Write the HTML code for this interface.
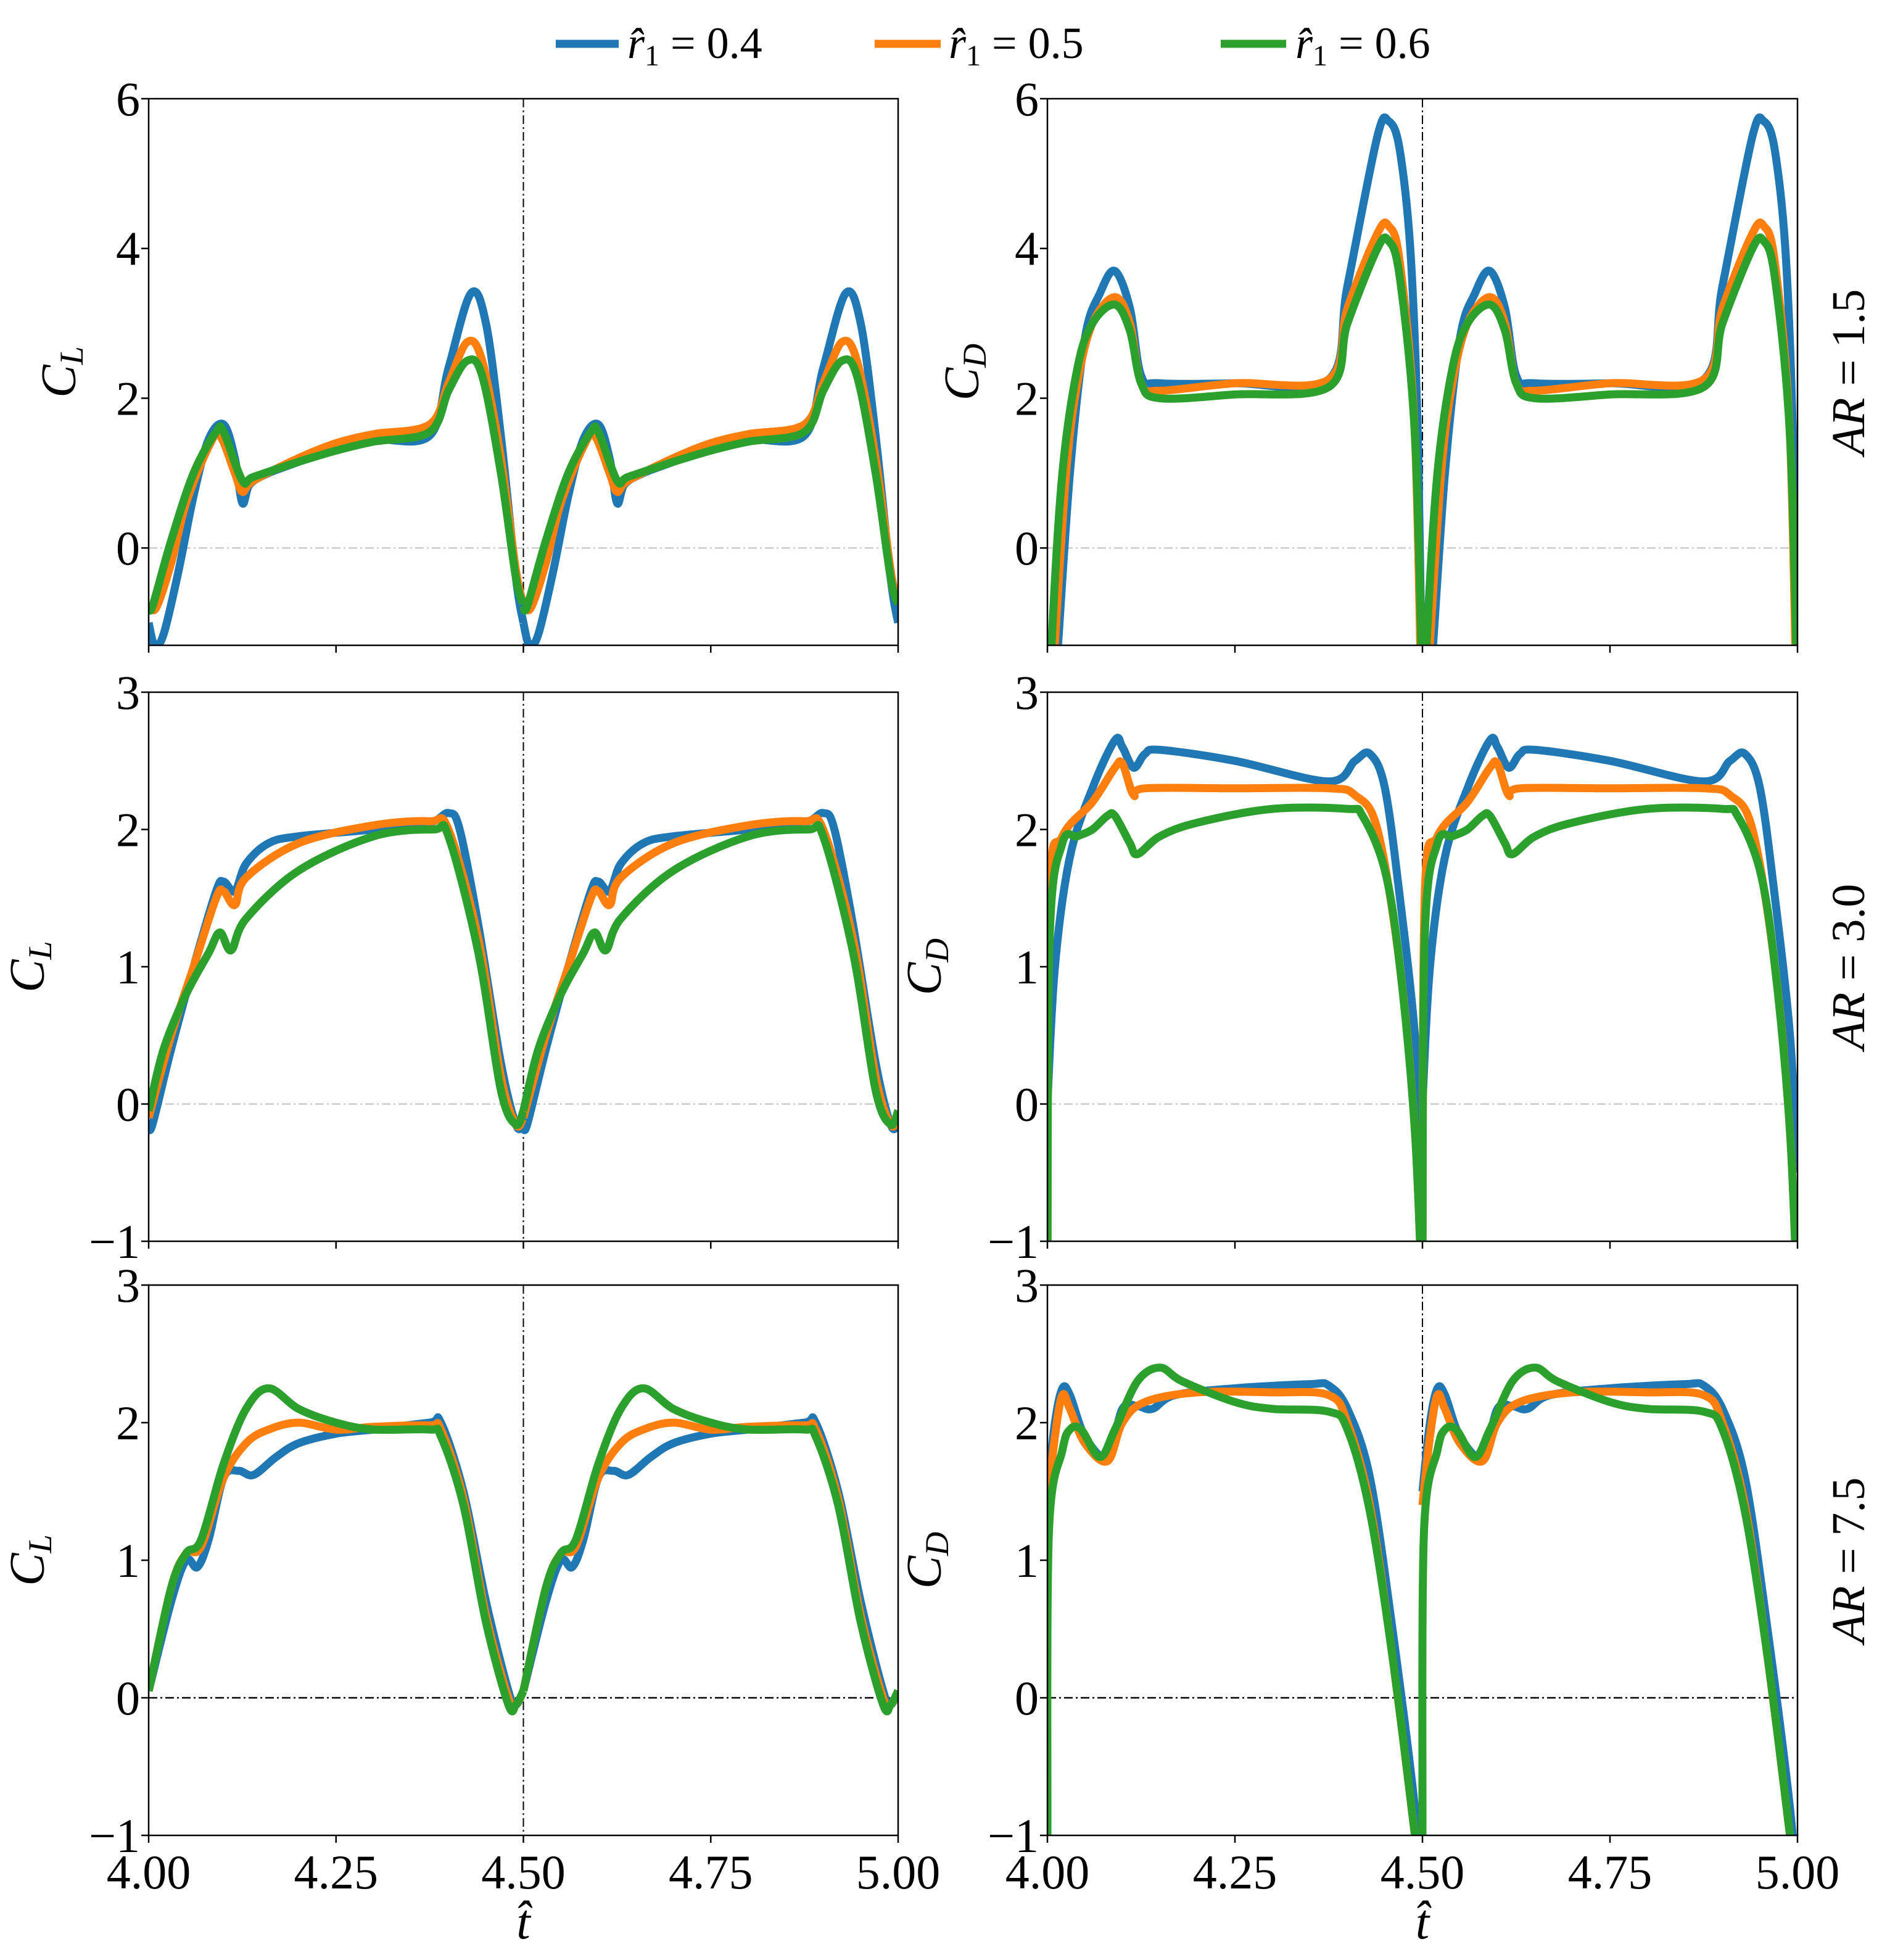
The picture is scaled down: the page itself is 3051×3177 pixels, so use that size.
<!DOCTYPE html>
<html><head><meta charset="utf-8"><style>
body{margin:0;background:#fff}
svg{display:block}
text{font-family:"Liberation Serif",serif;fill:#000}
</style></head><body>
<svg id="fig" width="3051" height="3177" viewBox="0 0 3051 3177">
<g id="legend">
 <g><line x1="901" y1="71" x2="1003" y2="71" stroke="#1f77b4" stroke-width="13"/><text x="1017" y="94" font-size="72"><tspan font-style="italic">r̂</tspan><tspan font-size="48" dy="12">1</tspan><tspan dy="-12"> = 0.4</tspan></text></g>
 <g><line x1="1418" y1="71" x2="1525" y2="71" stroke="#ff7f0e" stroke-width="13"/><text x="1538" y="94" font-size="72"><tspan font-style="italic">r̂</tspan><tspan font-size="48" dy="12">1</tspan><tspan dy="-12"> = 0.5</tspan></text></g>
 <g><line x1="1979" y1="71" x2="2085" y2="71" stroke="#2ca02c" stroke-width="13"/><text x="2100" y="94" font-size="72"><tspan font-style="italic">r̂</tspan><tspan font-size="48" dy="12">1</tspan><tspan dy="-12"> = 0.6</tspan></text></g>
</g>
</svg>
<script>
const tB=[4.0,4.008,4.02,4.04,4.06,4.08,4.10,4.115,4.125,4.135,4.16,4.2,4.25,4.3,4.375,4.4,4.43,4.45,4.47,4.49,4.5];
const r1L_blue=[-1.0,-1.3,-1.15,-0.3,0.7,1.45,1.65,1.2,0.6,0.85,1.0,1.15,1.35,1.45,1.5,2.4,3.4,3.0,1.5,-0.4,-1.0];
const tO1=[4.0,4.01,4.03,4.05,4.08,4.095,4.115,4.125,4.14,4.2,4.25,4.3,4.375,4.4,4.425,4.445,4.47,4.49,4.5];
const r1L_orange=[-0.75,-0.8,-0.2,0.6,1.35,1.5,1.0,0.75,0.9,1.2,1.4,1.52,1.65,2.2,2.75,2.5,1.2,-0.3,-0.75];
const tG1=[4.0,4.005,4.03,4.06,4.09,4.1,4.125,4.14,4.2,4.25,4.3,4.375,4.4,4.425,4.445,4.47,4.49,4.5];
const r1L_green=[-0.75,-0.78,0.1,1.0,1.55,1.55,0.9,0.95,1.15,1.3,1.42,1.55,2.1,2.5,2.3,1.0,-0.4,-0.75];

const tDB1=[4.0,4.012,4.03,4.05,4.07,4.09,4.11,4.125,4.15,4.25,4.375,4.4,4.44,4.455,4.47,4.485,4.495,4.5];
const r1D_blue=[-3,-1.6,1.0,2.8,3.4,3.7,3.2,2.3,2.2,2.2,2.25,3.5,5.5,5.7,5.3,3.8,1.0,-3];
const tDO1=[4.0,4.008,4.025,4.04,4.06,4.09,4.11,4.125,4.15,4.25,4.375,4.4,4.44,4.455,4.47,4.49,4.5];
const r1D_orange=[-3,-1.6,1.0,2.2,3.0,3.35,3.0,2.2,2.1,2.2,2.25,3.2,4.2,4.3,3.8,1.5,-3];
const tDG1=[4.0,4.006,4.02,4.04,4.06,4.09,4.11,4.125,4.15,4.25,4.375,4.4,4.44,4.455,4.47,4.49,4.5];
const r1D_green=[-3,-1.2,1.0,2.4,3.0,3.25,2.9,2.2,2.0,2.05,2.15,3.0,4.0,4.1,3.6,1.5,-2];

const tL2B=[4.0,4.005,4.03,4.06,4.09,4.1,4.115,4.13,4.16,4.2,4.3,4.375,4.4,4.415,4.44,4.47,4.49,4.5];
const r2L_blue=[-0.15,-0.15,0.4,1.0,1.55,1.62,1.55,1.75,1.9,1.95,2.0,2.05,2.12,2.0,1.3,0.3,-0.15,-0.15];
const tL2O=[4.0,4.03,4.06,4.09,4.1,4.115,4.13,4.2,4.3,4.375,4.4,4.44,4.47,4.49,4.5];
const r2L_orange=[-0.1,0.5,1.0,1.5,1.55,1.45,1.65,1.9,2.03,2.06,2.0,1.2,0.2,-0.15,-0.1];
const tL2G=[4.0,4.02,4.05,4.08,4.095,4.11,4.13,4.2,4.3,4.38,4.4,4.44,4.47,4.49,4.5];
const r2L_green=[-0.05,0.4,0.8,1.1,1.25,1.12,1.35,1.7,1.95,2.0,1.95,1.1,0.1,-0.15,-0.05];

const tD2B=[4.0,4.01,4.03,4.06,4.09,4.1,4.115,4.13,4.15,4.25,4.375,4.41,4.43,4.45,4.47,4.49,4.5];
const r2D_blue=[0.0,1.0,1.8,2.3,2.65,2.6,2.45,2.55,2.58,2.5,2.35,2.5,2.55,2.3,1.5,0.5,-0.5];
const tD2O=[4.0,4.003,4.02,4.06,4.09,4.1,4.115,4.13,4.25,4.375,4.41,4.44,4.47,4.49,4.5];
const r2D_orange=[-1.5,1.5,1.95,2.2,2.45,2.48,2.25,2.3,2.3,2.3,2.25,2.0,1.0,-0.2,-1.5];
const tD2G=[4.0,4.003,4.02,4.04,4.06,4.08,4.09,4.11,4.12,4.15,4.2,4.3,4.4,4.42,4.45,4.47,4.49,4.5];
const r2D_green=[-1.5,1.2,1.9,1.95,2.0,2.1,2.1,1.9,1.82,1.95,2.05,2.15,2.15,2.1,1.7,1.0,-0.2,-1.5];

const tL3B=[4.0,4.03,4.05,4.065,4.08,4.1,4.12,4.14,4.17,4.2,4.25,4.3,4.375,4.39,4.42,4.45,4.48,4.49,4.5];
const r3L_blue=[0.05,0.7,1.0,0.95,1.15,1.6,1.65,1.62,1.75,1.85,1.92,1.95,2.0,2.0,1.5,0.7,0.05,-0.05,0.05];
const tL3O=[4.0,4.03,4.05,4.07,4.1,4.13,4.16,4.2,4.25,4.3,4.375,4.39,4.42,4.45,4.48,4.49,4.5];
const r3L_orange=[0.05,0.8,1.05,1.1,1.6,1.85,1.95,2.0,1.95,1.97,1.98,1.95,1.45,0.6,0.0,-0.05,0.05];
const tL3G=[4.0,4.03,4.05,4.07,4.1,4.13,4.16,4.2,4.25,4.3,4.375,4.39,4.42,4.45,4.48,4.49,4.5];
const r3L_green=[0.05,0.8,1.05,1.15,1.7,2.1,2.25,2.1,2.0,1.95,1.95,1.9,1.4,0.55,-0.05,-0.05,0.05];

const tD3B=[4.0,4.01,4.02,4.03,4.05,4.08,4.1,4.12,4.14,4.17,4.25,4.35,4.375,4.4,4.43,4.46,4.49,4.5];
const r3D_blue=[1.5,2.0,2.25,2.2,1.9,1.75,2.1,2.12,2.1,2.2,2.25,2.28,2.27,2.1,1.6,0.5,-0.8,-1.5];
const tD3O=[4.0,4.01,4.02,4.03,4.05,4.08,4.1,4.13,4.2,4.3,4.375,4.4,4.43,4.46,4.49,4.5];
const r3D_orange=[1.4,1.9,2.2,2.1,1.85,1.72,2.0,2.15,2.22,2.22,2.2,2.0,1.4,0.3,-1.0,-1.5];
const tD3G=[4.0,4.002,4.02,4.03,4.045,4.07,4.09,4.12,4.15,4.18,4.25,4.3,4.375,4.4,4.43,4.46,4.49,4.5];
const r3D_green=[-1.0,1.2,1.8,1.95,1.95,1.75,1.95,2.3,2.4,2.3,2.15,2.1,2.08,1.95,1.35,0.3,-1.0,-1.5];

const xTicks=[4.0,4.25,4.5,4.75,5.0];
const xTickLabels=["4.00","4.25","4.50","4.75","5.00"];
const yTicks1=[0,2,4,6];
const yTicks2=[-1,0,1,2,3];

const NS="http://www.w3.org/2000/svg";
const svg=document.getElementById('fig');
const colors=["#1f77b4","#ff7f0e","#2ca02c"];
function mk(tag,attrs,parent){const e=document.createElementNS(NS,tag);for(const k in attrs)e.setAttribute(k,attrs[k]);(parent||svg).appendChild(e);return e;}

const panels=[
 {id:"cl-ar15",x0:241,x1:1456,y0:160,y1:1046,ymin:-1.3,ymax:6,yt:yTicks1,lab:"L",labx:122,zeroStyle:"grid",series:[[tB,r1L_blue],[tO1,r1L_orange],[tG1,r1L_green]],xl:false},
 {id:"cd-ar15",x0:1698,x1:2914,y0:160,y1:1046,ymin:-1.3,ymax:6,yt:yTicks1,lab:"D",labx:1586,zeroStyle:"grid",series:[[tDB1,r1D_blue],[tDO1,r1D_orange],[tDG1,r1D_green]],xl:false,ar:"1.5"},
 {id:"cl-ar30",x0:241,x1:1456,y0:1122,y1:2012,ymin:-1,ymax:3,yt:yTicks2,lab:"L",labx:71,zeroStyle:"grid",series:[[tL2B,r2L_blue],[tL2O,r2L_orange],[tL2G,r2L_green]],xl:false},
 {id:"cd-ar30",x0:1698,x1:2914,y0:1122,y1:2012,ymin:-1,ymax:3,yt:yTicks2,lab:"D",labx:1525,zeroStyle:"grid",series:[[tD2B,r2D_blue],[tD2O,r2D_orange],[tD2G,r2D_green]],xl:false,ar:"3.0"},
 {id:"cl-ar75",x0:241,x1:1456,y0:2083,y1:2975,ymin:-1,ymax:3,yt:yTicks2,lab:"L",labx:71,zeroStyle:"black",series:[[tL3B,r3L_blue],[tL3O,r3L_orange],[tL3G,r3L_green]],xl:true},
 {id:"cd-ar75",x0:1698,x1:2914,y0:2083,y1:2975,ymin:-1,ymax:3,yt:yTicks2,lab:"D",labx:1525,zeroStyle:"black",series:[[tD3B,r3D_blue],[tD3O,r3D_orange],[tD3G,r3D_green]],xl:true,ar:"7.5"}
];

function smoothPath(pts){
 let d="M"+pts[0][0].toFixed(1)+","+pts[0][1].toFixed(1);
 for(let i=0;i<pts.length-1;i++){
  const p0=pts[Math.max(0,i-1)],p1=pts[i],p2=pts[i+1],p3=pts[Math.min(pts.length-1,i+2)];
  const c1x=p1[0]+(p2[0]-p0[0])/6,c1y=p1[1]+(p2[1]-p0[1])/6;
  const c2x=p2[0]-(p3[0]-p1[0])/6,c2y=p2[1]-(p3[1]-p1[1])/6;
  d+=" C"+c1x.toFixed(1)+","+c1y.toFixed(1)+" "+c2x.toFixed(1)+","+c2y.toFixed(1)+" "+p2[0].toFixed(1)+","+p2[1].toFixed(1);
 }
 return d;
}

panels.forEach((p,pi)=>{
 const X=t=>p.x0+(t-4)/(1)*(p.x1-p.x0);
 const Y=v=>p.y1-(v-p.ymin)/(p.ymax-p.ymin)*(p.y1-p.y0);
 const g=mk('g',{});
 
 
 const cp=mk('clipPath',{id:'clip'+pi},g);
 mk('rect',{x:p.x0,y:p.y0,width:p.x1-p.x0,height:p.y1-p.y0},cp);
 const zl=mk('line',{x1:p.x0,x2:p.x1,y1:Y(0),y2:Y(0),stroke:p.zeroStyle==="black"?"#000":"#ccc","stroke-width":2.5,"stroke-dasharray":"14,5,3,5"},g);
 
 
 const vl=mk('line',{x1:X(4.5),x2:X(4.5),y1:p.y0,y2:p.y1,stroke:"#000","stroke-width":2,"stroke-dasharray":"14,5,3,5"},g);
 
 
 const sg=mk('g',{"clip-path":"url(#clip"+pi+")"},g);
 p.series.forEach((s,si)=>{
  [0,0.5].forEach(off=>{
   const pts=s[0].map((t,i)=>[X(t+off),Y(s[1][i])]);
   const path=mk('path',{d:smoothPath(pts),fill:"none",stroke:colors[si],"stroke-width":13,"stroke-linejoin":"round","stroke-linecap":"butt"},sg);
   
   
  });
 });
 const fr=mk('rect',{x:p.x0,y:p.y0,width:p.x1-p.x0,height:p.y1-p.y0,fill:"none",stroke:"#000","stroke-width":2.5},g);
 
 
 p.yt.forEach(v=>{
  mk('line',{x1:p.x0-12,x2:p.x0,y1:Y(v),y2:Y(v),stroke:"#000","stroke-width":2.5},g);
  const tx=mk('text',{x:p.x0-14,y:Y(v)+27,"font-size":78,"text-anchor":"end"},g);
  tx.textContent=v<0?"\u2212"+Math.abs(v):String(v);
  
  
 });
 xTicks.forEach((v,i)=>{
  mk('line',{x1:X(v),x2:X(v),y1:p.y1,y2:p.y1+12,stroke:"#000","stroke-width":2.5},g);
  if(p.xl){
   const tx=mk('text',{x:X(v),y:p.y1+86,"font-size":78,"text-anchor":"middle"},g);
   tx.textContent=xTickLabels[i];
   
   
  }
 });
 const cy=(p.y0+p.y1)/2;
 const yl=mk('text',{x:p.labx,y:cy,"font-size":80,"font-style":"italic","text-anchor":"middle",transform:"rotate(-90 "+p.labx+" "+cy+")"},g);
 yl.innerHTML='C<tspan font-size="54" dy="12">'+p.lab+'</tspan>';
 
 
 if(p.ar){
  const ax=3022;
  const at=mk('text',{x:ax,y:cy,"font-size":76,"text-anchor":"middle",transform:"rotate(-90 "+ax+" "+cy+")"},g);
  at.innerHTML='<tspan font-style="italic">AR</tspan> = '+p.ar;
  
  
 }
 if(p.xl){
  const xt=mk('text',{x:X(4.5),y:3142,"font-size":80,"font-style":"italic","text-anchor":"middle"},g);
  xt.textContent="t\u0302";
  
  
 }
});
</script>
</body></html>
